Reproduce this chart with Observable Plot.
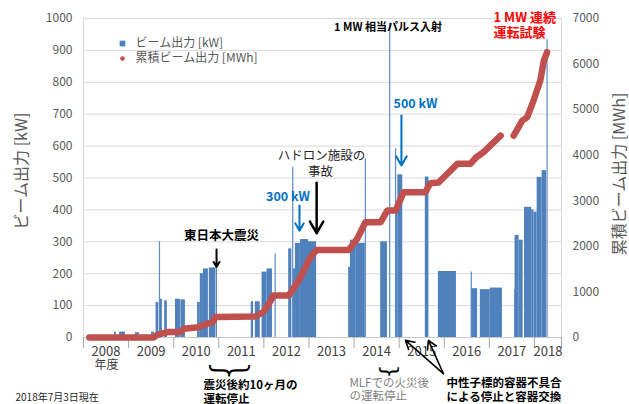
<!DOCTYPE html>
<html><head><meta charset="utf-8">
<script src="https://cdn.jsdelivr.net/npm/d3@7"></script>
<script src="https://cdn.jsdelivr.net/npm/@observablehq/plot@0.6"></script>
<style>
html,body{margin:0;padding:0;background:#fff;}
</style></head><body><div id="chart"></div>
<script>
// Fiscal-year axis: 2008.0 = start of FY2008 (April 2008)
const fiscalYears = [2008, 2009, 2010, 2011, 2012, 2013, 2014, 2015, 2016, 2017, 2018];
const axisEnd = 2018.6;

// Beam power runs [kW]
const runStart = [2008.69, 2008.80, 2009.15, 2009.51, 2009.61, 2009.70, 2009.80, 2010.04, 2010.16, 2010.53, 2010.59, 2010.66, 2010.79, 2010.94, 2011.72, 2011.81, 2011.96, 2012.07, 2012.55, 2012.65, 2012.70, 2012.81, 2012.99, 2013.88, 2013.92, 2014.05, 2014.59, 2014.93, 2014.97, 2015.58, 2015.87, 2016.60, 2016.80, 2017.02, 2017.57, 2017.66, 2017.78, 2017.94, 2017.99, 2018.06, 2018.17];
const runEnd   = [2008.73, 2008.93, 2009.24, 2009.57, 2009.67, 2009.75, 2009.86, 2010.15, 2010.26, 2010.59, 2010.66, 2010.77, 2010.93, 2010.97, 2011.77, 2011.92, 2012.07, 2012.19, 2012.62, 2012.70, 2012.81, 2012.99, 2013.17, 2013.92, 2014.05, 2014.25, 2014.74, 2014.97, 2015.08, 2015.66, 2016.27, 2016.74, 2017.02, 2017.29, 2017.66, 2017.75, 2017.94, 2017.99, 2018.06, 2018.17, 2018.27];
const runKW    = [17, 17, 15, 17, 110, 120, 115, 120, 118, 110, 200, 215, 218, 225, 112, 112, 205, 215, 278, 215, 295, 307, 300, 220, 305, 295, 300, 390, 510, 503, 207, 153, 150, 155, 320, 305, 408, 400, 393, 502, 523];

// Short pulses [kW]
const pulseAt = [2009.685, 2012.25, 2012.64, 2014.25, 2014.79, 2014.92, 2016.60, 2017.56, 2018.28];
const pulseKW = [300, 262, 534, 560, 985, 592, 205, 150, 933];

// Integrated beam power [MWh] (null = gap)
const cumFY  = [2008.13, 2009.55, 2009.64, 2009.77, 2009.88, 2010.15, 2010.22, 2010.55, 2010.77, 2010.86, 2010.93, 2011.81, 2011.99, 2012.10, 2012.21, 2012.55, 2012.75, 2012.81, 2013.03, 2013.17, 2013.88, 2014.07, 2014.25, 2014.59, 2014.74, 2014.92, 2015.10, 2015.58, 2015.69, 2015.87, 2016.03, 2016.29, 2016.58, 2016.71, 2016.87, 2017.02, 2017.25, 2017.40, 2017.54, 2017.73, 2017.84, 2017.98, 2018.13, 2018.21, 2018.28];
const cumMWh = [0, 0, 60, 95, 120, 120, 190, 225, 315, 330, 450, 460, 560, 720, 920, 920, 1215, 1320, 1760, 1920, 1920, 2165, 2530, 2530, 2787, 2787, 3190, 3190, 3385, 3400, 3555, 3810, 3810, 3955, 4065, 4210, 4430, null, 4430, 4760, 4835, 5200, 5640, 6080, 6260];

const leftTicks = [0, 100, 200, 300, 400, 500, 600, 700, 800, 900, 1000];
const rightTicks = [0, 1000, 2000, 3000, 4000, 5000, 6000, 7000];
const rightMax = 7000, leftMax = 1000;
const ratio = rightMax / leftMax;

const runs = runStart.map((s, i) => ({s, e: runEnd[i], v: runKW[i]}));
const pulses = pulseAt.map((x, i) => ({x, v: pulseKW[i]}));
const cum = cumFY.map((x, i) => ({x, v: cumMWh[i] == null ? NaN : cumMWh[i] / ratio}));
const yearCenters = fiscalYears.map(y => y === 2018 ? (2018 + axisEnd) / 2 : y + 0.5);
const bounds = fiscalYears.concat([axisEnd]);

const BLUE = "#4f81bd", RED = "#c0504d", CBLUE = "#0070c0";
const note = (t, dx, dy, o = {}) => Plot.text([t], {frameAnchor: "top-left", dx, dy, textAnchor: "middle", lineAnchor: "middle", fontSize: 12.5, fill: "#000", ...o});

const chart = Plot.plot({
  width: 629, height: 404,
  marginLeft: 83, marginRight: 68, marginTop: 18, marginBottom: 67,
  style: {fontFamily: "'Noto Sans CJK JP', 'Noto Sans', sans-serif", fontSize: "12px", color: "#595959", background: "#fff"},
  x: {domain: [2008, axisEnd]},
  y: {domain: [0, leftMax]},
  marks: [
    Plot.gridY(leftTicks, {stroke: "#d9d9d9", strokeOpacity: 1}),
    Plot.ruleX([2008, axisEnd], {stroke: "#d9d9d9"}),
    Plot.axisY(leftTicks, {anchor: "left", tickSize: 0, tickPadding: 11, label: null, fontSize: 12, tickFormat: d => String(d)}),
    Plot.axisY(rightTicks.map(v => v / ratio), {anchor: "right", tickSize: 0, tickPadding: 11, label: null, fontSize: 12, tickFormat: d => String(Math.round(d * ratio))}),
    Plot.rect(runs, {x1: "s", x2: "e", y1: 0, y2: "v", fill: BLUE}),
    Plot.ruleX(pulses, {x: "x", y1: 0, y2: "v", stroke: "#5b8cc8", strokeWidth: 1.2}),
    Plot.ruleY([0], {stroke: "#bfbfbf", strokeDasharray: "2 1.5"}),
    Plot.axisX(bounds, {tickSize: 11, tickFormat: () => "", label: null, stroke: "#a6a6a6"}),
    Plot.axisX(yearCenters, {tickSize: 0, tickPadding: 9, label: null, fontSize: 13, fill: "#404040", tickFormat: d => String(Math.floor(d))}),
    Plot.line(cum, {x: "x", y: "v", stroke: RED, strokeWidth: 6.5, strokeLinecap: "round", strokeLinejoin: "round"}),
    // legend
    Plot.dot([0], {frameAnchor: "top-left", dx: 39, dy: 25, symbol: "square", r: 3.2, fill: BLUE}),
    note("ビーム出力 [kW]", 52, 25, {textAnchor: "start", fontSize: 12, fill: "#595959"}),
    Plot.dot([0], {frameAnchor: "top-left", dx: 39, dy: 40, r: 2.3, fill: RED}),
    note("累積ビーム出力 [MWh]", 52, 40, {textAnchor: "start", fontSize: 12, fill: "#595959"}),
    // axis titles
    Plot.text(["ビーム出力 [kW]"], {frameAnchor: "left", textAnchor: "middle", lineAnchor: "middle", dx: -62, dy: -7, rotate: -90, fontSize: 16, fill: "#595959"}),
    Plot.text(["累積ビーム出力 [MWh]"], {frameAnchor: "right", textAnchor: "middle", lineAnchor: "middle", dx: 58, dy: -4, rotate: -90, fontSize: 16, fill: "#595959"}),
    // annotations
    note("東日本大震災", 138, 217, {fontWeight: "bold"}),
    Plot.arrow([0], {x: 2010.95, y1: 276, y2: 221, stroke: "#000", strokeWidth: 2, headLength: 8}),
    note("300 kW", 204.5, 178.5, {fontWeight: "bold", fill: CBLUE}),
    Plot.arrow([0], {x: 2012.79, y1: 414, y2: 335, stroke: CBLUE, strokeWidth: 2, headLength: 8}),
    note("ハドロン施設の", 238, 137, {fill: "#262626"}),
    note("事故", 237, 153, {fill: "#262626"}),
    Plot.arrow([0], {x: 2013.17, y1: 485, y2: 327, stroke: "#000", strokeWidth: 2.5, headLength: 8}),
    note("1 MW 相当パルス入射", 304.5, 8.5, {fontWeight: "bold", fontSize: 11}),
    note("500 kW", 332, 85, {fontWeight: "bold", fill: CBLUE}),
    Plot.arrow([0], {x: 2015.05, y1: 696, y2: 539, stroke: CBLUE, strokeWidth: 2, headLength: 8}),
    note("1 MW 連続", 410, -1, {textAnchor: "start", fontWeight: "bold", fontSize: 13, fill: "#ff0000"}),
    note("運転試験", 410, 14.5, {textAnchor: "start", fontWeight: "bold", fontSize: 13, fill: "#ff0000"}),
    note("年度", 23, 346.5, {fontSize: 12, fill: "#404040"}),
    note("}", 147, 353, {rotate: 90, fontSize: 44, fontWeight: 300, fontFamily: "DejaVu Sans"}),
    note("震災後約10ヶ月の", 120, 367, {textAnchor: "start", fontWeight: "bold", fontSize: 11.5}),
    note("運転停止", 120, 381, {textAnchor: "start", fontWeight: "bold", fontSize: 11.5}),
    note("2018年7月3日現在", -68, 379, {textAnchor: "start", fontSize: 10, fill: "#262626"}),
    note("}", 307, 353, {rotate: 90, fontSize: 22, fontFamily: "DejaVu Sans"}),
    note("MLFでの火災後", 266, 365, {textAnchor: "start", fontSize: 11.5, fill: "#7f7f7f"}),
    note("の運転停止", 266, 378, {textAnchor: "start", fontSize: 11.5, fill: "#7f7f7f"}),
    note("中性子標的容器不具合", 363, 365, {textAnchor: "start", fontWeight: "bold", fontSize: 11.5}),
    note("による停止と容器交換", 363, 379, {textAnchor: "start", fontWeight: "bold", fontSize: 11.5}),
    Plot.arrow([2015.14, 2015.65], {x1: 2015.98, y1: -113, x2: d => d, y2: -9, stroke: "#000", strokeWidth: 1.6, headLength: 9})
  ]
});
document.getElementById("chart").appendChild(chart);
</script>
</body></html>
